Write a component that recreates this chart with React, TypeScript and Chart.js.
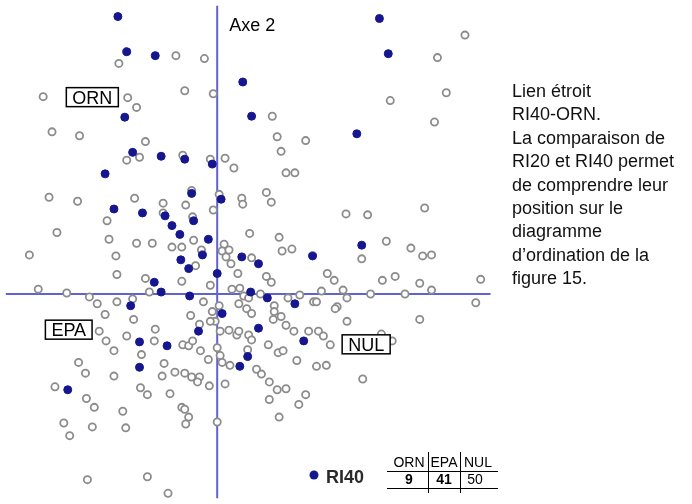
import React, { useEffect, useRef } from "react";
import { Chart, registerables } from "chart.js";

Chart.register(...registerables);

// Ordination scores (x100): axis 1 horizontal, axis 2 vertical
const ri40Points: [number, number][] = [
  [-101, 284], [-92, 248], [-63, 244], [165, 282], [174, 246], [26, 217], [35, 182],
  [-94, 181], [142, 164], [-86, 145], [-57, 141], [-33, 138], [-5, 133], [-114, 123],
  [-26, 103], [4, 97], [-105, 87], [-76, 83], [-53, 80], [-24, 75], [-46, 70], [-38, 61],
  [-9, 56], [-15, 40], [25, 38], [-37, 35], [42, 31], [-29, 26], [0, 21], [-64, 12],
  [-57, 2], [-28, -2], [34, 2], [51, -4], [97, 39], [147, 50], [-88, -12], [79, -10],
  [5, -20], [-79, -49], [-51, -53], [-19, -38], [42, -35], [88, -48], [31, -64],
  [23, -74], [-79, -75], [-152, -98],
];

const otherPoints: [number, number][] = [
  [-42, 244], [-100, 236], [-13, 241], [-177, 202], [-91, 201], [-82, 191], [-33, 208],
  [-4, 205], [-168, 166], [-140, 162], [-73, 156], [-35, 142], [-79, 140], [-92, 137],
  [-7, 138], [8, 139], [252, 265], [224, 242], [233, 206], [176, 198], [56, 182],
  [221, 176], [61, 161], [90, 157], [65, 146], [17, 129], [-171, 99], [-142, 95],
  [-84, 98], [-26, 106], [-55, 93], [-32, 91], [2, 102], [25, 98], [26, 92], [-55, 83],
  [-4, 86], [-25, 79], [-112, 75], [-163, 63], [-110, 56], [-82, 52], [-66, 52], [-24, 55],
  [33, 62], [-46, 48], [-36, 48], [-16, 45], [7, 51], [5, 44], [9, 38], [14, 31], [12, 45],
  [-191, 40], [-103, 39], [-22, 29], [-102, 20], [-73, 16], [-36, 13], [21, 21], [-7, 9],
  [-182, 5], [-69, 2], [-153, 1], [-130, -3], [15, 5], [23, 6], [27, -2], [32, -4],
  [-122, -10], [-102, -8], [-86, -5], [-14, -8], [2, -12], [22, -10],
  [70, 124], [79, 124], [50, 104], [55, 94], [131, 82], [153, 81], [211, 88], [63, 58],
  [66, 44], [76, 46], [147, 36], [172, 54], [197, 47], [209, 39], [218, 40], [35, 37],
  [50, 18], [55, 12], [112, 21], [119, 14], [168, 14], [181, 18], [206, 11], [268, 15],
  [44, 0], [72, -4], [84, -1], [106, 3], [128, 4], [132, -4], [156, 0], [191, 0], [218, 4],
  [98, -8], [101, -8], [122, -13], [263, -9], [58, -12],
  [-114, -21], [-85, -26], [-120, -38], [-113, -48], [-105, -58], [-92, -43], [-63, -36],
  [-64, -48], [-35, -52], [-29, -53], [-25, -48], [-27, -22], [-18, -31], [-5, -18],
  [-2, -28], [-7, -28], [12, -37], [20, -42], [30, -15], [3, -38], [-17, -58], [-9, -67],
  [0, -55], [3, -63], [5, -70], [13, -73], [-77, -62], [-54, -71], [-56, -84], [-43, -80],
  [-33, -81], [-26, -85], [-18, -85], [-20, -90], [-8, -94], [8, -92], [-48, -102],
  [-78, -96], [-71, -103], [-36, -116], [-33, -118], [-29, -126], [-32, -133], [0, -131],
  [-141, -70], [-134, -81], [-105, -84], [-165, -95], [-133, -107], [-125, -116],
  [-96, -120], [-156, -132], [-150, -145], [-127, -136], [-93, -137], [-132, -190],
  [-71, -187], [-50, -204],
  [206, -26], [132, -28], [120, -15], [167, -41], [178, -48], [35, -20], [58, -18],
  [57, -26], [65, -23], [70, -32], [22, -38], [32, -42], [35, -47], [78, -38], [93, -38],
  [103, -38], [108, -43], [115, -52], [52, -52], [62, -60], [67, -58], [31, -57], [40, -77],
  [45, -82], [81, -68], [101, -74], [111, -73], [148, -87], [53, -90], [61, -98], [70, -97],
  [90, -103], [83, -113], [53, -108], [63, -126],
];

// Group labels placed at their ordination centroids
const groupLabels = ["ORN", "EPA", "NUL"];
const groupX = [-127, -151, 151.5];
const groupY = [201.5, -36.5, -51.5];

const axis2Title = "Axe 2";
const axis1End = 278;

const noteLines = [
  "Lien étroit",
  "RI40-ORN.",
  "La comparaison de",
  "RI20 et RI40 permet",
  "de comprendre leur",
  "position sur le",
  "diagramme",
  "d’ordination de la",
  "figure 15.",
];

const legendLabel = "RI40";
const tableHeaders = ["ORN", "EPA", "NUL"];
const tableValues = ["9", "41", "50"];
const tableBold = [true, true, false];

const FONT = "'Liberation Sans', Arial, sans-serif";
const NAVY = "#16168f";
const AXIS_COLOR = "rgba(80,80,205,0.9)";

const overlay = {
  id: "overlay",
  beforeDatasetsDraw(chart: any) {
    const ctx = chart.ctx;
    const xs = chart.scales.x;
    const ys = chart.scales.y;
    const ca = chart.chartArea;
    const x0 = xs.getPixelForValue(0);
    const y0 = ys.getPixelForValue(0);
    ctx.save();
    ctx.strokeStyle = AXIS_COLOR;
    ctx.lineWidth = 2;
    ctx.beginPath();
    ctx.moveTo(x0, ca.top);
    ctx.lineTo(x0, ca.bottom);
    ctx.moveTo(ca.left, y0);
    ctx.lineTo(xs.getPixelForValue(axis1End), y0);
    ctx.stroke();
    ctx.restore();
  },
  afterDatasetsDraw(chart: any) {
    const ctx = chart.ctx;
    const xs = chart.scales.x;
    const ys = chart.scales.y;
    const x0 = xs.getPixelForValue(0);
    ctx.save();
    ctx.textBaseline = "alphabetic";

    // Axis 2 title
    ctx.fillStyle = "#000";
    ctx.font = `18px ${FONT}`;
    ctx.textAlign = "left";
    ctx.fillText(axis2Title, x0 + 12, 31);

    // Group boxes
    groupLabels.forEach((lab, i) => {
      const cx = xs.getPixelForValue(groupX[i]);
      const cy = ys.getPixelForValue(groupY[i]);
      ctx.font = `18px ${FONT}`;
      const w = ctx.measureText(lab).width + 12;
      const h = 19;
      ctx.fillStyle = "#fff";
      ctx.fillRect(cx - w / 2, cy - h / 2, w, h);
      ctx.strokeStyle = "#000";
      ctx.lineWidth = 1.5;
      ctx.strokeRect(cx - w / 2, cy - h / 2, w, h);
      ctx.fillStyle = "#000";
      ctx.textAlign = "center";
      ctx.fillText(lab, cx, cy + 6.8);
    });

    // Note text
    ctx.fillStyle = "#111";
    ctx.font = `18px ${FONT}`;
    ctx.textAlign = "left";
    noteLines.forEach((line, i) => {
      ctx.fillText(line, 512, 97 + i * 23.4);
    });

    // Legend
    ctx.fillStyle = NAVY;
    ctx.beginPath();
    ctx.arc(314, 475, 4.5, 0, Math.PI * 2);
    ctx.fill();
    ctx.fillStyle = "#2a2a2a";
    ctx.font = `bold 18px ${FONT}`;
    ctx.textAlign = "left";
    ctx.fillText(legendLabel, 326, 483);

    // Table
    const colCenters = [409, 444, 478];
    ctx.fillStyle = "#000";
    ctx.textAlign = "center";
    tableHeaders.forEach((h, i) => {
      ctx.font = `14px ${FONT}`;
      ctx.fillText(h, colCenters[i], 467);
    });
    tableValues.forEach((v, i) => {
      ctx.font = `${tableBold[i] ? "bold " : ""}14px ${FONT}`;
      ctx.fillText(v, colCenters[i] - (i === 2 ? 3 : 0), 484);
    });
    ctx.strokeStyle = "#000";
    ctx.lineWidth = 1;
    ctx.beginPath();
    ctx.moveTo(387, 471.5);
    ctx.lineTo(498, 471.5);
    ctx.moveTo(387, 488.5);
    ctx.lineTo(498, 488.5);
    ctx.moveTo(428.5, 452);
    ctx.lineTo(428.5, 493);
    ctx.moveTo(460.5, 452);
    ctx.lineTo(460.5, 493);
    ctx.stroke();

    ctx.restore();
  },
};

export default function App() {
  const ref = useRef<HTMLCanvasElement | null>(null);
  useEffect(() => {
    if (!ref.current) return;
    const chart = new Chart(ref.current, {
      type: "scatter",
      data: {
        datasets: [
          {
            label: "RI40",
            data: ri40Points.map(([x, y]) => ({ x, y })),
            pointRadius: 4,
            pointBorderWidth: 1,
            pointBackgroundColor: NAVY,
            pointBorderColor: NAVY,
            showLine: false,
          },
          {
            label: "Autres",
            data: otherPoints.map(([x, y]) => ({ x, y })),
            pointRadius: 3.6,
            pointBorderWidth: 1.8,
            pointBackgroundColor: "#ffffff",
            pointBorderColor: "#8c8c8c",
            showLine: false,
          },
        ],
      },
      options: {
        responsive: false,
        animation: false,
        layout: { padding: 0 },
        plugins: {
          legend: { display: false },
          tooltip: { enabled: false },
        },
        scales: {
          x: { type: "linear", min: -215, max: 477, display: false },
          y: { type: "linear", min: -209, max: 295, display: false },
        },
      },
      plugins: [overlay],
    });
    return () => chart.destroy();
  }, []);
  return (
    <div style={{ position: "absolute", left: 0, top: 0, width: 692, height: 504, background: "#fff" }}>
      <canvas ref={ref} width={692} height={504} />
    </div>
  );
}
